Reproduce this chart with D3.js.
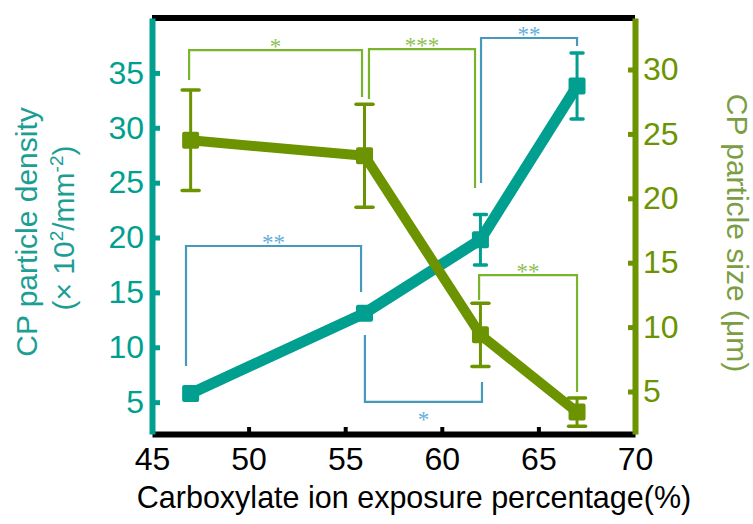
<!DOCTYPE html>
<html lang="en">
<head>
    <meta charset="UTF-8">
    <title>CP particle density and size</title>
    <script src="https://d3js.org/d3.v7.min.js"></script>
    <style>
        body { margin: 0; background: #fff; }
        svg { font-family: "Liberation Sans", Arial, sans-serif; }
        .star { font-family: "Liberation Serif", "Times New Roman", serif; font-size: 23px; }
    </style>
</head>
<body>
<svg width="753" height="524"></svg>
<script>
    // exposure percentages (x)
    const exposure = [47, 56, 62, 67];
    // CP particle density (x10^2/mm^2), left axis
    const density = [5.8, 13.1, 19.8, 33.8];
    const densityErr = [0.4, 0.5, 2.3, 3.0];
    // CP particle size (um), right axis
    const size = [24.5, 23.3, 9.4, 3.4];
    const sizeErr = [3.9, 4.0, 2.45, 1.1];

    const xTicks = [45, 50, 55, 60, 65, 70];
    const leftTicks = [5, 10, 15, 20, 25, 30, 35];
    const rightTicks = [5, 10, 15, 20, 25, 30];

    // significance brackets (x in %, y in left-axis units)
    // top: y of the bar, y1/y2: where the legs end
    const brackets = [
        { x1: 46.92, x2: 55.87, top: 37.08, y1: 34.35, y2: 32.8, label: "*", kind: "size", side: "up" },
        { x1: 56.23, x2: 61.72, top: 37.17, y1: 32.62, y2: 24.51, label: "***", kind: "size", side: "up" },
        { x1: 62.03, x2: 67.0, top: 38.18, y1: 24.97, y2: 37.45, label: "**", kind: "density", side: "up" },
        { x1: 46.76, x2: 55.82, top: 19.23, y1: 8.29, y2: 15.04, label: "**", kind: "density", side: "up" },
        { x1: 56.02, x2: 62.08, top: 5.02, y1: 11.12, y2: 6.84, label: "*", kind: "density", side: "down" },
        { x1: 61.93, x2: 67.0, top: 16.58, y1: 14.31, y2: 5.93, label: "**", kind: "size", side: "up" }
    ];

    const teal = "#009f90";
    const olive = "#6b9400";
    const bracketColor = { density: "#4799bb", size: "#78b52c" };
    const starColor = { density: "#62addb", size: "#8cc152" };

    const svg = d3.select("svg");
    const mLeft = 152, mRight = 635, mTop = 18, mBottom = 434;

    const x = d3.scaleLinear().domain([45, 70]).range([mLeft, mRight]);
    const yL = d3.scaleLinear().domain([2.1, 40]).range([mBottom, mTop]);
    const yR = d3.scaleLinear().domain([1.7, 34.0]).range([mBottom, mTop]);

    // frame: top black line
    svg.append("line")
        .attr("x1", mLeft).attr("x2", mRight)
        .attr("y1", mTop).attr("y2", mTop)
        .attr("stroke", "#000").attr("stroke-width", 6);

    // bottom axis
    const gx = svg.append("g")
        .attr("transform", `translate(0,${mBottom})`)
        .call(d3.axisBottom(x).tickValues(xTicks).tickSize(-7).tickSizeOuter(0).tickPadding(13));
    gx.select(".domain").attr("stroke", "#000").attr("stroke-width", 6);
    gx.selectAll(".tick line").attr("stroke", "#000").attr("stroke-width", 4);
    gx.selectAll(".tick text").attr("font-size", 32).attr("fill", "#000");
    gx.selectAll(".tick").filter(d => d === 45 || d === 70).select("line").remove();
    gx.attr("font-family", null).attr("font-size", null);

    // left axis
    const gl = svg.append("g")
        .attr("transform", `translate(${mLeft},0)`)
        .call(d3.axisLeft(yL).tickValues(leftTicks).tickSize(-8).tickSizeOuter(0).tickPadding(8));
    gl.select(".domain").attr("stroke", teal).attr("stroke-width", 6);
    gl.selectAll(".tick line").attr("stroke", teal).attr("stroke-width", 5);
    gl.selectAll(".tick text").attr("font-size", 32).attr("fill", teal);
    gl.attr("font-family", null).attr("font-size", null);

    // right axis
    const gr = svg.append("g")
        .attr("transform", `translate(${mRight},0)`)
        .call(d3.axisRight(yR).tickValues(rightTicks).tickSize(-7).tickSizeOuter(0).tickPadding(8));
    gr.select(".domain").attr("stroke", olive).attr("stroke-width", 6);
    gr.selectAll(".tick line").attr("stroke", olive).attr("stroke-width", 5);
    gr.selectAll(".tick text").attr("font-size", 32).attr("fill", olive);
    gr.attr("font-family", null).attr("font-size", null);

    // axis titles
    svg.append("text")
        .attr("x", 414).attr("y", 508)
        .attr("text-anchor", "middle")
        .attr("font-size", 30.5)
        .text("Carboxylate ion exposure percentage(%)");

    svg.append("text")
        .attr("transform", "translate(37,232) rotate(-90)")
        .attr("text-anchor", "middle")
        .attr("font-size", 30).attr("fill", "#1c9e95")
        .text("CP particle density");
    const lt2 = svg.append("text")
        .attr("transform", "translate(74,228) rotate(-90)")
        .attr("text-anchor", "middle")
        .attr("font-size", 30).attr("fill", "#1c9e95");
    lt2.append("tspan").text("(× 10");
    lt2.append("tspan").attr("font-size", 19).attr("dy", -11).text("2");
    lt2.append("tspan").attr("dy", 11).text("/mm");
    lt2.append("tspan").attr("font-size", 19).attr("dy", -11).text("-2");
    lt2.append("tspan").attr("dy", 11).text(")");

    svg.append("text")
        .attr("transform", "translate(727,233) rotate(90)")
        .attr("text-anchor", "middle")
        .attr("font-size", 30).attr("fill", "#7b9e45")
        .text("CP particle size (μm)");

    // brackets
    const bg = svg.append("g");
    brackets.forEach(b => {
        const c = bracketColor[b.kind];
        const p = `M${x(b.x1)},${yL(b.y1)} L${x(b.x1)},${yL(b.top)} L${x(b.x2)},${yL(b.top)} L${x(b.x2)},${yL(b.y2)}`;
        bg.append("path").attr("d", p)
            .attr("fill", "none").attr("stroke", c).attr("stroke-width", 2.2);
        bg.append("text").attr("class", "star")
            .attr("x", (x(b.x1) + x(b.x2)) / 2)
            .attr("y", b.side === "up" ? yL(b.top) + 4 : yL(b.top) + 25)
            .attr("text-anchor", "middle")
            .attr("fill", starColor[b.kind])
            .text(b.label);
    });

    const densData = exposure.map((e, i) => ({ x: e, y: density[i], err: densityErr[i] }));
    const sizeData = exposure.map((e, i) => ({ x: e, y: size[i], err: sizeErr[i] }));

    function drawSeries(data, yScale, color, lineW, capW) {
        const g = svg.append("g");
        g.append("path")
            .datum(data)
            .attr("d", d3.line().x(d => x(d.x)).y(d => yScale(d.y)))
            .attr("fill", "none").attr("stroke", color)
            .attr("stroke-width", lineW)
            .attr("stroke-linecap", "round").attr("stroke-linejoin", "round");
        const eb = g.selectAll(".eb").data(data).enter().append("g");
        eb.append("line")
            .attr("x1", d => x(d.x)).attr("x2", d => x(d.x))
            .attr("y1", d => yScale(d.y - d.err)).attr("y2", d => yScale(d.y + d.err))
            .attr("stroke", color).attr("stroke-width", 3);
        [-1, 1].forEach(s => {
            eb.append("line")
                .attr("x1", d => x(d.x) - capW / 2).attr("x2", d => x(d.x) + capW / 2)
                .attr("y1", d => yScale(d.y + s * d.err)).attr("y2", d => yScale(d.y + s * d.err))
                .attr("stroke", color).attr("stroke-width", 3.5)
                .attr("stroke-linecap", "round");
        });
        g.selectAll(".mk").data(data).enter().append("rect")
            .attr("x", d => x(d.x) - 8.5).attr("y", d => yScale(d.y) - 8.5)
            .attr("width", 17).attr("height", 17)
            .attr("rx", 2)
            .attr("fill", color);
    }

    drawSeries(densData, yL, teal, 11, 12);
    drawSeries(sizeData, yR, olive, 10, 17);
</script>
</body>
</html>
